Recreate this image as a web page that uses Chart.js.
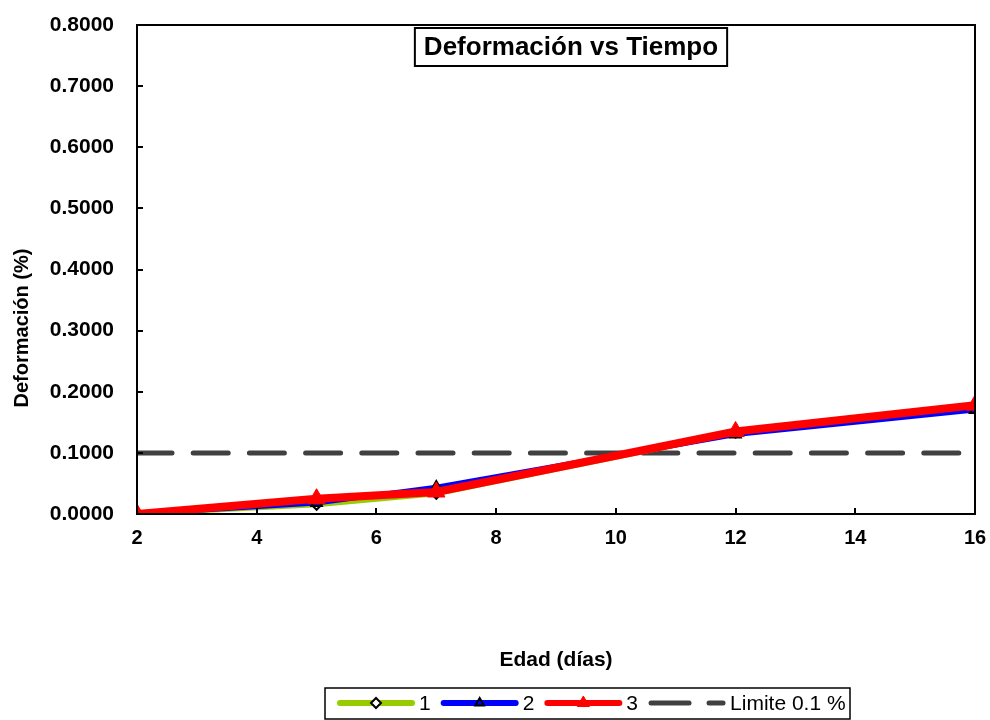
<!DOCTYPE html>
<html>
<head>
<meta charset="utf-8">
<script src="https://cdn.jsdelivr.net/npm/chart.js@4.4.0/dist/chart.umd.min.js"></script>
<style>
  html, body { margin: 0; padding: 0; background: #fff; }
</style>
</head>
<body>
<canvas id="myChart" width="990" height="720"></canvas>
<script>
// datos
const edades = [2, 5, 7, 12, 16];
const serie1 = [0, 0.015, 0.033, 0.133, 0.177];
const serie2 = [0, 0.018, 0.044, 0.130, 0.170];
const serie3 = [0, 0.025, 0.036, 0.135, 0.178];
const limiteX = [2, 16];
const limiteY = [0.1, 0.1];
const nombres = ['1', '2', '3', 'Limite 0.1 %'];
const ticksX = [2, 4, 6, 8, 10, 12, 14, 16];
const ticksY = [0, 0.1, 0.2, 0.3, 0.4, 0.5, 0.6, 0.7, 0.8];
const tituloGrafico = 'Deformación vs Tiempo';
const tituloX = 'Edad (días)';
const tituloY = 'Deformación (%)';

const FONT = 'Liberation Sans, Arial, sans-serif';

function puntos(xs, ys) {
    return xs.map(function (x, i) { return { x: x, y: ys[i] }; });
}

// marco, marcas hacia dentro, titulos y leyenda con borde
const extras = {
    id: 'extras',
    afterDatasetsDraw: function (chart) {
        const ctx = chart.ctx;
        const a = chart.chartArea;
        const sx = chart.scales.x, sy = chart.scales.y;
        ctx.save();
        ctx.strokeStyle = '#000';
        ctx.lineWidth = 2;
        ctx.strokeRect(a.left, a.top, a.right - a.left, a.bottom - a.top);
        ctx.beginPath();
        ticksY.forEach(function (v) {
            const y = Math.round(sy.getPixelForValue(v));
            ctx.moveTo(a.left, y); ctx.lineTo(a.left + 6, y);
        });
        ticksX.forEach(function (v) {
            const x = Math.round(sx.getPixelForValue(v));
            ctx.moveTo(x, a.bottom); ctx.lineTo(x, a.bottom - 6);
        });
        ctx.stroke();

        // titulo del grafico
        ctx.font = 'bold 26px ' + FONT;
        const tw = ctx.measureText(tituloGrafico).width;
        const cx = 571, cy = 47;
        ctx.fillStyle = '#fff';
        ctx.fillRect(cx - tw / 2 - 9, cy - 19, tw + 18, 38);
        ctx.strokeRect(cx - tw / 2 - 9, cy - 19, tw + 18, 38);
        ctx.fillStyle = '#000';
        ctx.textAlign = 'center';
        ctx.textBaseline = 'middle';
        ctx.fillText(tituloGrafico, cx, cy + 1);

        // titulo eje y
        ctx.save();
        ctx.translate(22, 328);
        ctx.rotate(-Math.PI / 2);
        ctx.font = 'bold 20px ' + FONT;
        ctx.fillText(tituloY, 0, 0);
        ctx.restore();

        // leyenda
        const ly = 703;
        let x = 340;
        ctx.font = '21px ' + FONT;
        ctx.textAlign = 'left';
        chart.data.datasets.forEach(function (ds, i) {
            ctx.save();
            ctx.strokeStyle = ds.borderColor;
            ctx.lineWidth = i === 3 ? 5 : 6;
            ctx.lineCap = 'round';
            if (ds.borderDash) ctx.setLineDash([38, 20]);
            ctx.beginPath();
            ctx.moveTo(x, ly); ctx.lineTo(x + 72, ly);
            ctx.stroke();
            ctx.restore();
            if (ds.pointRadius > 0) {
                ctx.save();
                ctx.strokeStyle = ds.pointBorderColor;
                ctx.fillStyle = ds.pointBackgroundColor;
                ctx.lineWidth = ds.pointBorderWidth;
                Chart.helpers.drawPoint(ctx, {
                    pointStyle: ds.pointStyle,
                    radius: i === 2 ? 7 : 5,
                    borderWidth: ds.pointBorderWidth
                }, x + 36, ly);
                ctx.restore();
            }
            ctx.fillStyle = '#000';
            ctx.fillText(nombres[i], x + 79, ly + 1);
            x += 79 + ctx.measureText(nombres[i]).width + 13;
        });
        ctx.strokeStyle = '#000';
        ctx.lineWidth = 1.5;
        ctx.strokeRect(325, 688, 525, 31);
        ctx.restore();
    }
};

const ctx = document.getElementById('myChart');
new Chart(ctx, {
    type: 'line',
    data: {
        datasets: [{
            label: nombres[0],
            data: puntos(edades, serie1),
            borderColor: '#99CC00',
            borderWidth: 5,
            pointStyle: 'rectRot',
            pointRadius: 5,
            pointBorderColor: '#000',
            pointBackgroundColor: '#fff',
            pointBorderWidth: 2,
            order: 2
        }, {
            label: nombres[1],
            data: puntos(edades, serie2),
            borderColor: '#0000FF',
            borderWidth: 5,
            pointStyle: 'triangle',
            pointRadius: 6,
            pointBorderColor: '#000',
            pointBackgroundColor: 'rgba(255,255,255,0)',
            pointBorderWidth: 2,
            order: 1
        }, {
            label: nombres[2],
            data: puntos(edades, serie3),
            borderColor: '#FF0000',
            borderWidth: 8,
            pointStyle: 'triangle',
            pointRadius: 10,
            pointBorderColor: '#FF0000',
            pointBackgroundColor: '#FF0000',
            pointBorderWidth: 1,
            order: 0
        }, {
            label: nombres[3],
            data: puntos(limiteX, limiteY),
            borderColor: '#404040',
            borderWidth: 5,
            borderDash: [35, 21.2],
            borderCapStyle: 'round',
            pointRadius: 0,
            order: 3
        }]
    },
    options: {
        responsive: false,
        animation: false,
        devicePixelRatio: 1,
        layout: { padding: { top: 25, right: 15, left: 0, bottom: 0 } },
        plugins: {
            legend: { display: false },
            tooltip: { enabled: false }
        },
        scales: {
            x: {
                type: 'linear',
                min: 2,
                max: 16,
                afterFit: function (s) {
                    s.height = 206;
                    s.paddingLeft = 0; s.paddingRight = 0;
                },
                afterBuildTicks: function (s) { s.ticks = ticksX.map(function (v) { return { value: v }; }); },
                grid: { display: false, drawTicks: false },
                border: { display: false },
                ticks: {
                    color: '#000',
                    padding: 12,
                    font: { family: FONT, size: 20, weight: 'bold' }
                },
                title: {
                    display: true,
                    text: tituloX,
                    color: '#000',
                    padding: { top: 0, bottom: 47 },
                    font: { family: FONT, size: 21, weight: 'bold' }
                }
            },
            y: {
                min: 0,
                max: 0.8,
                afterFit: function (s) {
                    s.width = 137;
                    s.paddingTop = 0; s.paddingBottom = 0;
                },
                afterBuildTicks: function (s) { s.ticks = ticksY.map(function (v) { return { value: v }; }); },
                grid: { display: false, drawTicks: false },
                border: { display: false },
                ticks: {
                    color: '#000',
                    padding: 23,
                    font: { family: FONT, size: 21, weight: 'bold' },
                    callback: function (v) { return Number(v).toFixed(4); }
                }
            }
        }
    },
    plugins: [extras]
});
</script>
</body>
</html>
